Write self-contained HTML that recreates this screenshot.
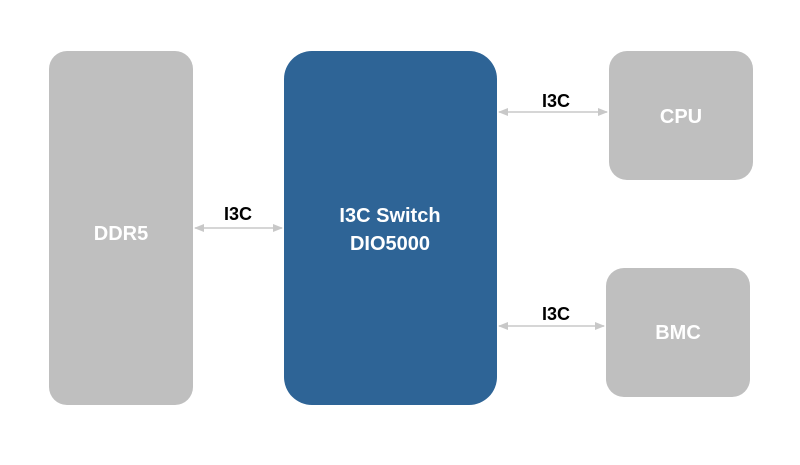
<!DOCTYPE html>
<html><head><style>
body{margin:0;width:800px;height:460px;background:#fff;overflow:hidden}
</style></head><body>
<svg width="800" height="460" xmlns="http://www.w3.org/2000/svg" font-family="'Liberation Sans', sans-serif" font-weight="bold">
<defs><marker id="a" markerWidth="10" markerHeight="8" refX="9" refY="4" orient="auto-start-reverse" markerUnits="userSpaceOnUse"><path d="M0,0 L10,4 L0,8 z" fill="#c8c8c8"/></marker></defs>
<rect x="49" y="51" width="144" height="354" rx="18" fill="#bfbfbf"/>
<rect x="284" y="51" width="213" height="354" rx="28" fill="#2e6496"/>
<rect x="609" y="51" width="144" height="129" rx="18" fill="#bfbfbf"/>
<rect x="606" y="268" width="144" height="129" rx="18" fill="#bfbfbf"/>
<line x1="195" y1="228" x2="282" y2="228" stroke="#c8c8c8" stroke-width="1.5" marker-start="url(#a)" marker-end="url(#a)"/>
<line x1="499" y1="112" x2="607" y2="112" stroke="#c8c8c8" stroke-width="1.5" marker-start="url(#a)" marker-end="url(#a)"/>
<line x1="499" y1="326" x2="604" y2="326" stroke="#c8c8c8" stroke-width="1.5" marker-start="url(#a)" marker-end="url(#a)"/>
<g font-size="18" fill="#000" text-anchor="middle">
<text x="238" y="220">I3C</text>
<text x="556" y="107">I3C</text>
<text x="556" y="320">I3C</text>
</g>
<g font-size="20" fill="#fff" text-anchor="middle">
<text x="121" y="240">DDR5</text>
<text x="390" y="222">I3C Switch</text>
<text x="390" y="250">DIO5000</text>
<text x="681" y="123">CPU</text>
<text x="678" y="339">BMC</text>
</g>
</svg>
</body></html>
